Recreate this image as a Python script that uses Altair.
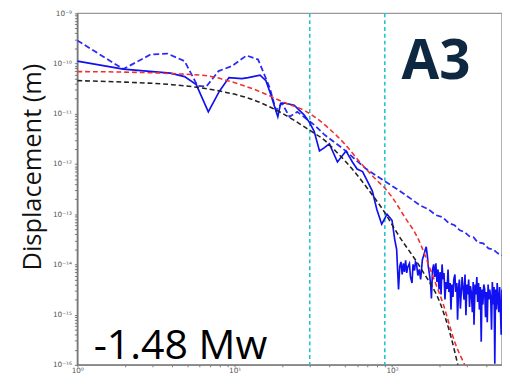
import altair as alt
import pandas as pd

# ---- data (frequency in Hz, log10 of displacement in m) ----
solid_freq = [1, 1.96, 3.9, 4.8, 5.7, 6.8, 8.0, 9.2, 11.1, 12.2, 14.5, 15.8, 16.9, 18.8, 19.6,
              21, 23.9, 27.6, 30, 32, 34.6, 37, 40, 45, 51, 56, 60, 65, 70, 75, 80, 86, 93,
              100, 104, 107,
              110, 112, 114, 116, 118, 120, 122, 124, 126, 129, 131, 134, 136, 139, 141, 143,
              146, 149, 152, 156, 160, 163, 165, 168, 170, 173, 176, 178, 181, 184, 187, 190,
              193, 196, 199, 202, 205, 208, 211, 214, 217, 220, 224, 227, 230, 234, 237, 240,
              244, 247, 251, 254, 258, 261, 265, 268, 272, 276, 279, 283, 287, 291, 295, 299,
              303, 307, 311, 315, 319, 324, 328, 332, 337, 341, 346, 350, 355, 359, 364, 369,
              373, 378, 383, 388, 393, 398, 403, 408, 413, 418, 424, 429, 434, 440, 445, 450,
              455, 461, 466, 472, 477, 483, 488, 494, 500]
solid_log = [-9.95, -10.11, -10.19, -10.26, -10.42, -10.96, -10.55, -10.28, -10.30, -10.28,
             -10.23, -10.34, -10.60, -11.06, -10.79, -10.79, -10.83, -11.02, -11.18, -11.35,
             -11.74, -11.68, -11.60, -11.96, -11.74, -11.96, -12.10, -12.15, -12.35, -12.54,
             -12.90, -13.20, -13.00, -13.12, -13.50, -13.70,
             -14.50, -14.04, -13.95, -14.20, -13.98, -14.15, -13.92, -14.17, -14.05, -13.98,
             -14.25, -14.37, -14.00, -14.12, -13.95, -13.98, -14.22, -14.10, -14.30, -13.90,
             -13.80, -13.70, -13.65, -13.85, -14.04, -14.20, -14.40, -14.68, -14.10, -14.00,
             -14.25, -13.98, -14.35, -14.10, -14.50, -14.15, -14.60, -14.00, -14.30, -14.17,
             -14.70, -14.35, -14.49, -14.10, -14.55, -14.37, -14.90, -14.40, -14.65, -14.30,
             -14.20, -14.55, -14.37, -15.10, -14.45, -14.30, -14.88, -14.50, -14.25, -14.49,
             -14.70, -14.20, -15.01, -14.40, -14.60, -14.30, -14.85, -14.43, -14.55, -14.95,
             -14.35, -15.20, -14.40, -14.60, -14.25, -14.75, -14.37, -14.90, -14.45, -15.54,
             -14.50, -14.80, -14.40, -14.49, -15.05, -14.55, -15.15, -14.40, -14.70, -14.50,
             -14.68, -15.30, -14.35, -14.80, -14.45, -15.98, -14.50, -14.90, -14.37, -14.70,
             -14.95, -14.45, -14.82, -15.40, -14.50]

dashed_freq = [1, 1.96, 2.92, 3.73, 4.8, 5.8, 6.6, 7.9, 9.6, 11.9, 14.1, 16.7, 18.3, 20,
               22.3, 25, 28, 32, 37, 49, 68, 90.5, 110, 130, 150, 170, 190, 210, 230, 250,
               270, 290, 310, 330, 350, 380, 410, 440, 470, 500]
dashed_log = [-9.54, -10.11, -9.82, -9.80, -9.95, -10.44, -10.46, -10.15, -10.05, -9.84,
              -9.92, -10.48, -10.93, -10.79, -11.06, -10.96, -11.08, -11.22, -11.41, -11.70,
              -12.09, -12.35, -12.52, -12.68, -12.82, -12.90, -13.02, -13.06, -13.18, -13.22,
              -13.32, -13.36, -13.44, -13.46, -13.56, -13.58, -13.68, -13.70, -13.78, -13.82]

red_freq = [1, 2, 4, 6.9, 8.8, 14, 21.6, 27.6, 40, 50, 62, 78, 90, 100, 120, 145, 180,
            213, 250, 290]
red_log = [-10.16, -10.17, -10.20, -10.25, -10.33, -10.54, -10.80, -10.93, -11.30, -11.60,
           -11.95, -12.29, -12.48, -12.66, -13.05, -13.46, -14.20, -14.82, -15.54, -16.0]

black_freq = [1, 2, 4, 6, 9, 12, 19, 30, 37, 45, 59, 68, 90, 109, 154, 205, 235, 262]
black_log = [-10.34, -10.37, -10.42, -10.48, -10.58, -10.68, -10.95, -11.33, -11.52, -11.78,
             -12.19, -12.44, -12.97, -13.40, -14.10, -14.82, -15.40, -16.0]

corner_freqs = [30, 90]

label_a3 = "A3"
label_mw = "-1.48 Mw"
a3_pos = (115, 5.0e-11)
mw_pos = (1.27, 1.3e-16)

x_ticks = [1, 2, 3, 4, 5, 6, 7, 8, 9, 10, 20, 30, 40, 50, 60, 70, 80, 90, 100, 200, 300, 400, 500]
y_ticks = [k * 10.0 ** n for n in range(-16, -9) for k in range(1, 10)] + [1e-9]


def frame(freq, logs):
    return pd.DataFrame({"freq": freq, "disp": [10.0 ** v for v in logs]})


sup = "['\u2070','\u00b9','\u00b2','\u00b3','\u2074','\u2075','\u2076','\u2077','\u2078','\u2079']"
ex = "round(log(datum.value)/LN10)"
label_expr = (
    f"abs(log(datum.value)/LN10 - {ex}) > 0.001 ? '' : "
    f"'10' + ({ex} < 0 ? '\u207b' : '') + "
    f"(abs({ex}) >= 10 ? {sup}[floor(abs({ex})/10)] : '') + {sup}[abs({ex}) % 10]"
)

xscale = alt.Scale(type="log", domain=[1, 500], nice=False)
yscale = alt.Scale(type="log", domain=[1e-16, 1e-9], nice=False)

xaxis = alt.Axis(values=x_ticks, labelExpr=label_expr, labelOverlap=False, title=None,
                 grid=False, tickSize=2, labelPadding=0, labelFontSize=7.5,
                 labelFont="DejaVu Sans", labelColor="#555", domainColor="#777",
                 tickColor="#777", labelFlush=False)
yaxis = alt.Axis(values=y_ticks, labelExpr=label_expr, labelOverlap=False,
                 title="Displacement (m)", titleFont="Open Sans", titleFontSize=26,
                 titleFontWeight="normal", titleColor="#111", titleAngle=-90,
                 titleX=-38, titleY=157, titleAlign="center", titleBaseline="alphabetic",
                 grid=False, tickSize=3, labelPadding=3, labelFontSize=7.5,
                 labelFont="DejaVu Sans", labelColor="#555", domainColor="#777",
                 tickColor="#777", domainWidth=1.5, labelFlush=False)

X = alt.X("freq:Q", scale=xscale, axis=xaxis)
Y = alt.Y("disp:Q", scale=yscale, axis=yaxis)

rules = alt.Chart(pd.DataFrame({"freq": corner_freqs})).mark_rule(
    color="#22c3cf", strokeDash=[4, 3], strokeWidth=1.6
).encode(x=X)

blue_dashed = alt.Chart(frame(dashed_freq, dashed_log)).mark_line(
    color="#2b2bf5", strokeDash=[6, 3], strokeWidth=1.8, clip=True
).encode(x=X, y=Y, order="freq:Q")

blue_solid = alt.Chart(frame(solid_freq, solid_log)).mark_line(
    color="#1010f0", strokeWidth=1.7, clip=True
).encode(x=X, y=Y, order="freq:Q")

black = alt.Chart(frame(black_freq, black_log)).mark_line(
    color="#222", strokeDash=[5, 3], strokeWidth=1.6, clip=True, interpolate="monotone"
).encode(x=X, y=Y, order="freq:Q")

red = alt.Chart(frame(red_freq, red_log)).mark_line(
    color="#f03030", strokeDash=[5, 3], strokeWidth=1.6, clip=True, interpolate="monotone"
).encode(x=X, y=Y, order="freq:Q")

a3 = alt.Chart(pd.DataFrame({"freq": [a3_pos[0]], "disp": [a3_pos[1]], "t": [label_a3]})).mark_text(
    font="Open Sans", fontSize=56, fontWeight="bold", color="#0e2841",
    align="left", baseline="alphabetic"
).encode(x=X, y=Y, text="t:N")

mw = alt.Chart(pd.DataFrame({"freq": [mw_pos[0]], "disp": [mw_pos[1]], "t": [label_mw]})).mark_text(
    font="Open Sans", fontSize=42, color="#000",
    align="left", baseline="alphabetic"
).encode(x=X, y=Y, text="t:N")

chart = alt.layer(rules, blue_dashed, blue_solid, black, red, a3, mw).properties(
    width=435, height=360,
    autosize=alt.AutoSizeParams(type="none"),
    padding={"left": 71, "top": 1, "right": 0, "bottom": 9},
).configure_view(stroke="#999", strokeWidth=1.5)

chart.save("out.html", embed_options={"renderer": "svg", "actions": False})
